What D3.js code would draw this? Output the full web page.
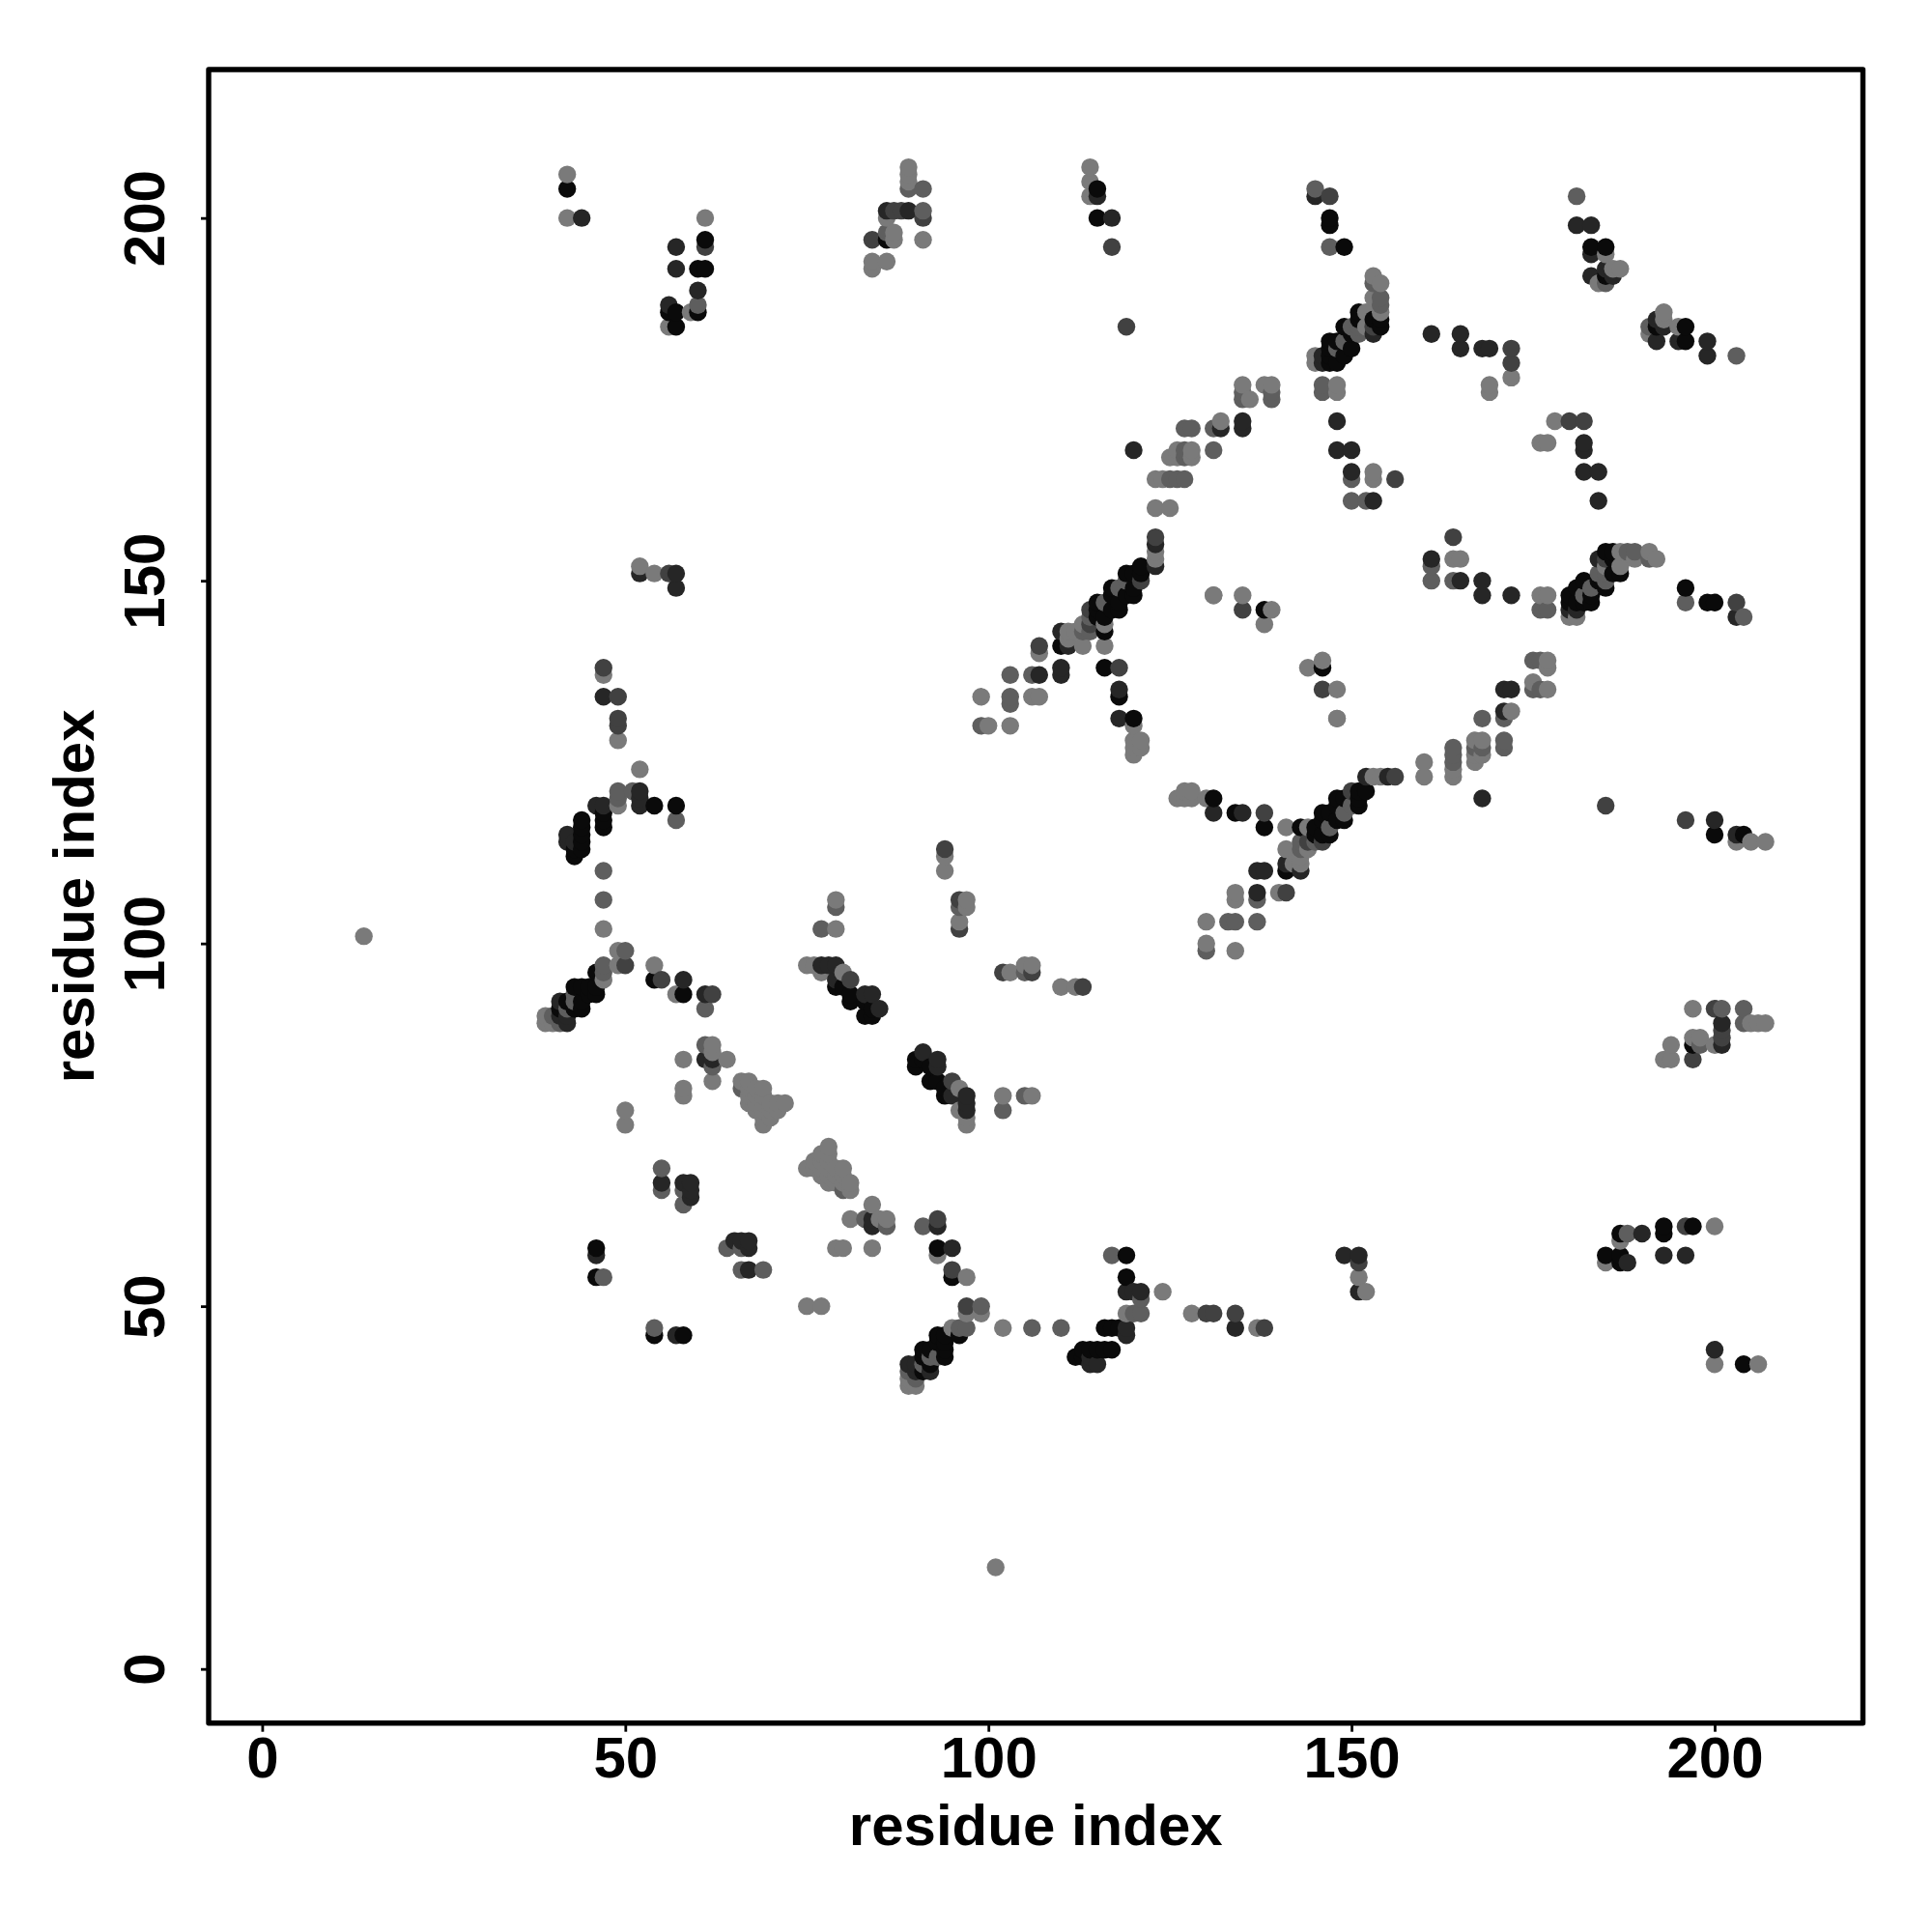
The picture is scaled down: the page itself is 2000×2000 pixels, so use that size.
<!DOCTYPE html>
<html><head><meta charset="utf-8">
<script src="https://cdnjs.cloudflare.com/ajax/libs/d3/7.8.5/d3.min.js"></script>
<style>html,body{margin:0;padding:0;background:#fff}svg{display:block}text{font-family:"Liberation Sans",Arial,sans-serif;font-weight:bold;fill:#000}</style>
</head><body><svg id="c" width="2000" height="2000"></svg>
<script>
// Contact pairs [residue i, residue j] with i<j, grouped by contact strength. The map is symmetric.
const contactsStrength5=[[42,204],[61,197],[60,193],[61,193],[60,187],[56,187],[57,187],[57,185],[86,197],[115,204],[115,200],[147,200],[147,199],[149,196],[151,187],[151,186],[153,186],[154,186],[154,185],[149,185],[150,184],[148,183],[147,183],[150,182],[147,182],[149,181],[147,181],[148,180],[147,180],[183,196],[185,196],[185,192],[121,152],[119,151],[120,151],[121,151],[120,149],[117,149],[119,148],[120,148],[117,148],[115,147],[118,147],[117,146],[118,146],[116,145],[115,145],[115,146],[116,143],[110,141],[116,138],[118,134],[120,131],[138,146],[54,119],[57,119],[47,118],[47,117],[47,116],[44,117],[44,116],[44,115],[44,114],[44,113],[43,113],[43,112],[46,96],[43,94],[44,94],[45,94],[46,94],[45,93],[46,93],[43,91],[44,92],[44,91],[42,92],[41,91],[54,95],[58,93],[79,94],[80,94],[81,93],[81,92],[83,92],[84,91],[83,90],[84,90],[46,58],[46,54]];
const contactsStrength4=[[44,200],[57,196],[57,193],[60,190],[86,201],[89,201],[56,188],[115,203],[117,200],[145,203],[161,184],[165,184],[165,182],[168,182],[169,182],[183,199],[181,199],[183,195],[183,192],[186,192],[185,193],[153,184],[146,181],[146,180],[148,172],[148,168],[150,168],[150,165],[153,161],[135,172],[135,171],[132,171],[120,168],[123,155],[123,152],[110,143],[110,138],[110,137],[107,137],[118,135],[118,131],[111,141],[47,134],[52,121],[52,120],[52,119],[46,119],[47,119],[42,115],[42,114],[43,114],[41,92],[41,90],[42,90],[42,89],[58,95],[61,93],[77,97],[78,97],[79,97],[79,95],[83,93],[84,93],[85,91],[46,57],[58,67],[59,67],[59,66],[59,65],[55,67],[62,84],[61,84],[57,149],[57,151],[52,151]];
const contactsStrength3=[[91,200],[84,197],[87,201],[88,201],[61,196],[147,203],[117,196],[119,185],[153,185],[172,182],[172,180],[47,138],[49,134],[49,131],[49,130],[94,113],[96,106],[96,102],[50,97],[55,95],[62,93],[81,95],[107,141],[114,146],[114,144],[121,150],[118,138],[156,164],[123,156],[135,146],[56,151]];
const contactsStrength2=[[89,204],[91,204],[91,201],[60,188],[86,198],[145,204],[147,196],[146,177],[146,176],[139,175],[139,176],[135,175],[135,176],[150,164],[150,161],[152,161],[131,168],[125,164],[126,164],[127,164],[127,168],[127,167],[127,171],[128,171],[131,171],[154,189],[154,188],[153,191],[151,184],[149,183],[150,185],[151,185],[148,182],[181,203],[185,191],[47,110],[47,106],[49,121],[49,120],[50,99],[47,97],[57,117],[61,91],[61,86],[79,105],[77,102],[96,105],[99,130],[103,137],[103,134],[103,133],[106,137],[113,143],[114,143],[114,145],[118,149],[119,150],[116,147],[51,121],[47,54],[55,69],[55,66],[58,64],[58,66],[66,80],[62,83],[40,90],[41,89],[42,91],[43,93],[43,92],[47,96]];
const contactsStrength1=[[42,206],[42,200],[61,200],[89,207],[89,206],[89,205],[87,198],[87,197],[86,200],[91,197],[84,194],[84,193],[86,194],[52,152],[54,151],[59,187],[56,185],[114,207],[114,205],[114,203],[153,192],[154,191],[153,189],[154,187],[152,187],[152,185],[145,181],[145,180],[148,177],[148,176],[135,177],[136,175],[138,177],[139,177],[132,172],[125,167],[126,168],[126,167],[128,168],[128,167],[123,164],[124,164],[123,160],[125,160],[123,154],[123,153],[131,148],[139,146],[138,144],[135,148],[153,165],[153,164],[172,178],[169,177],[169,176],[185,195],[184,191],[186,193],[187,193],[47,102],[47,137],[49,128],[52,124],[49,119],[49,99],[49,97],[47,95],[57,93],[54,97],[62,86],[62,85],[64,84],[58,84],[58,80],[58,79],[62,81],[50,77],[50,75],[40,89],[39,89],[39,90],[75,97],[76,97],[77,96],[80,96],[79,106],[79,102],[94,112],[94,110],[97,106],[97,105],[96,103],[99,134],[100,130],[103,130],[106,134],[107,134],[107,140],[111,143],[111,142],[112,143],[113,144],[113,141],[116,144],[116,141],[120,130],[120,128],[121,128],[120,127],[121,127],[120,126],[148,131],[14,101],[66,81],[67,81],[67,80],[67,79],[68,80],[69,80],[67,78],[68,79],[69,79],[68,78],[69,78],[70,78],[71,78],[72,78],[68,77],[69,77],[70,77],[71,77],[69,76],[70,76],[69,75]];
const axisTicks=[0,50,100,150,200];
const axisTitle="residue index";

const strengthGrey=d3.scaleOrdinal().domain([5,4,3,2,1]).range(["#0a0a0a","#262626","#414141","#5e5e5e","#7a7a7a"]);
const box={left:216,right:1928.5,top:72,bottom:1783.7};
const x=d3.scaleLinear().domain([-7.37,220.42]).range([box.left,box.right]);
const y=d3.scaleLinear().domain([-7.46,220.46]).range([box.bottom,box.top]);
const svg=d3.select("#c");

const groups=[[5,contactsStrength5],[4,contactsStrength4],[3,contactsStrength3],[2,contactsStrength2],[1,contactsStrength1]];
const rows=[];
groups.forEach(([s,list])=>list.forEach(([i,j])=>{rows.push({x:i,y:j,s});rows.push({x:j,y:i,s});}));
rows.sort((a,b)=>d3.ascending(a.x,b.x)||d3.ascending(a.y,b.y));
svg.append("g").selectAll("circle").data(rows).join("circle")
  .attr("cx",d=>x(d.x)).attr("cy",d=>y(d.y)).attr("r",9.2).attr("fill",d=>strengthGrey(d.s));

const gx=svg.append("g").attr("transform",`translate(0,${box.bottom})`)
  .call(d3.axisBottom(x).tickValues(axisTicks).tickSize(9).tickPadding(0));
gx.select(".domain").remove();
gx.selectAll("line").attr("stroke","#000").attr("stroke-width",2.8);
gx.selectAll("text").attr("y",56).attr("dy",null).attr("font-size",60).attr("font-family",null);

const gy=svg.append("g").attr("transform",`translate(${box.left},0)`)
  .call(d3.axisLeft(y).tickValues(axisTicks).tickSize(8).tickPadding(0));
gy.select(".domain").remove();
gy.selectAll("line").attr("stroke","#000").attr("stroke-width",2.8);
gy.selectAll("text").attr("x",null).attr("dy",null).attr("font-size",60).attr("font-family",null)
  .attr("text-anchor","middle").attr("transform","translate(-46,0) rotate(-90)");

svg.append("rect").attr("x",box.left).attr("y",box.top)
  .attr("width",box.right-box.left).attr("height",box.bottom-box.top)
  .attr("fill","none").attr("stroke","#000").attr("stroke-width",5.4).attr("stroke-linejoin","round");

svg.append("text").attr("x",(box.left+box.right)/2).attr("y",1910).attr("text-anchor","middle").attr("font-size",60).text(axisTitle);
svg.append("text").attr("transform",`translate(97,${(box.top+box.bottom)/2}) rotate(-90)`).attr("text-anchor","middle").attr("font-size",60).text(axisTitle);
</script>
</body></html>
